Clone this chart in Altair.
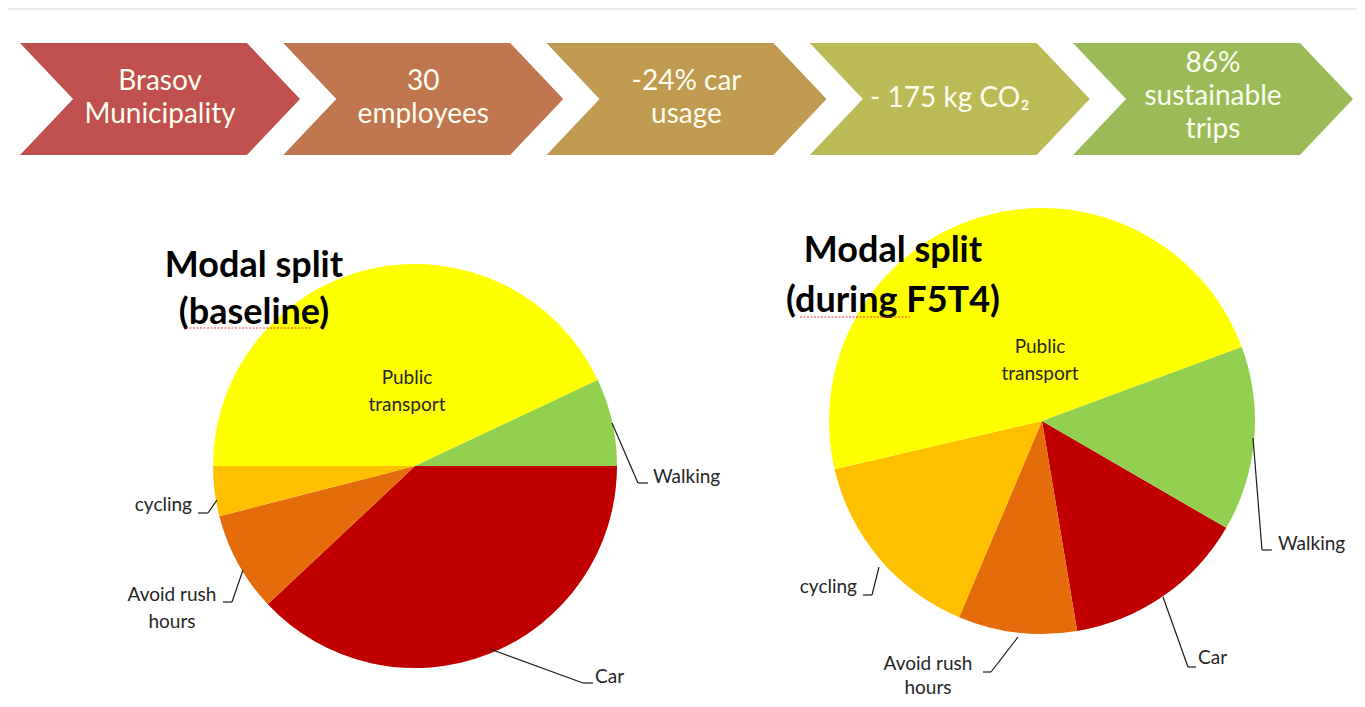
import math
import altair as alt
import pandas as pd

# ---------------- data ----------------
steps = ["Brasov\nMunicipality", "30\nemployees", "-24% car\nusage", "- 175 kg CO₂", "86%\nsustainable\ntrips"]
step_colors = ["#C0504D", "#C0774F", "#BF9A50", "#BCBB58", "#9BBB59"]

modes = ["Car", "Avoid rush hours", "cycling", "Public transport", "Walking"]
mode_colors = ["#C00000", "#E46C0A", "#FFC000", "#FFFF00", "#92D050"]
baseline = [38, 8, 4, 43, 7]
during = [14, 9, 15, 48, 14]

W, H = 1349, 691
OFF = 8  # page margin; coordinates below are page coordinates minus OFF


def P(v):
    return v - OFF


FONT = "Lato"
LABEL_COLOR = "#262626"
one = pd.DataFrame({"s": [0]})

# ---------------- chevrons ----------------
steps_df = pd.DataFrame({
    "i": list(range(len(steps))),
    "step": steps,
    "nlines": [s.count("\n") + 1 for s in steps],
})
xscale = alt.Scale(domain=[0, len(steps) - 1], range=[P(160), P(1213)])
chev_path = "M-1,-0.4 L0.621,-0.4 L1,0 L0.621,0.4 L-1,0.4 L-0.621,0 Z"

chevrons = alt.Chart(steps_df).mark_point(
    shape=chev_path, filled=True, opacity=1, size=280 * 280, strokeWidth=0
).encode(
    x=alt.X("i:Q", scale=xscale, axis=None),
    y=alt.value(P(99)),
    color=alt.Color("step:N", scale=alt.Scale(domain=steps, range=step_colors), legend=None),
)

# first line's vertical position depends on how many lines the label has
chev_text = alt.Chart(steps_df).mark_text(
    font=FONT, fontSize=28, color="#FDFDF0", lineBreak="\n", lineHeight=33,
    align="center", baseline="middle"
).encode(
    x=alt.X("i:Q", scale=xscale, axis=None),
    y=alt.Y("nlines:Q", scale=alt.Scale(domain=[1, 3], range=[P(99), P(64)]), axis=None),
    text="step:N",
)

# ---------------- pies ----------------
def pie(values, cx, cy, r, start_deg):
    df = pd.DataFrame({"mode": modes, "k": list(range(len(modes))), "v": values})
    a = math.radians(start_deg)
    return alt.Chart(df).mark_arc(radius=r, stroke=None).encode(
        theta=alt.Theta("v:Q", stack=True, scale=alt.Scale(range=[a, a + 2 * math.pi])),
        color=alt.Color("mode:N", scale=alt.Scale(domain=modes, range=mode_colors), legend=None),
        order=alt.Order("k:Q"),
        x=alt.value(P(cx)),
        y=alt.value(P(cy)),
    )


pie_left = pie(baseline, 415, 466, 202, 90)
pie_right = pie(during, 1042, 421, 213, 120.1)


def txt(text, x, y, size=19, align="left", bold=False, lh=27, color=LABEL_COLOR):
    df = pd.DataFrame({"t": [text]})
    return alt.Chart(df).mark_text(
        font=FONT, fontSize=size, fontWeight="bold" if bold else "normal",
        color=color, align=align, baseline="middle", lineBreak="\n", lineHeight=lh
    ).encode(x=alt.value(P(x)), y=alt.value(P(y)), text="t:N")


def seg(x1, y1, x2, y2, color="#1a1a1a", width=1.2, dash=None):
    kw = dict(color=color, strokeWidth=width)
    if dash:
        kw["strokeDash"] = dash
    return alt.Chart(one).mark_rule(**kw).encode(
        x=alt.value(P(x1)), y=alt.value(P(y1)), x2=alt.value(P(x2)), y2=alt.value(P(y2))
    )


top_strip = alt.Chart(one).mark_rect(color="#EBEBEB").encode(
    x=alt.value(0), x2=alt.value(W), y=alt.value(0), y2=alt.value(2)
)

annotations = [
    # left pie
    txt("Public\ntransport", 407, 378, align="center"),
    txt("Walking", 653, 477),
    seg(612, 423, 638, 483), seg(638, 483, 648, 483),
    txt("Car", 595, 677),
    seg(490, 649, 583, 683), seg(583, 683, 593, 683),
    txt("cycling", 192, 505, align="right"),
    seg(198, 513, 208, 513), seg(208, 513, 217, 500),
    txt("Avoid rush\nhours", 172, 595, align="center"),
    seg(223, 602, 232, 602), seg(232, 602, 243, 570),
    # right pie
    txt("Public\ntransport", 1040, 347, align="center"),
    txt("Walking", 1278, 544),
    seg(1253, 438, 1262, 550), seg(1262, 550, 1272, 550),
    txt("Car", 1198, 658),
    seg(1163, 597, 1188, 667), seg(1188, 667, 1196, 667),
    txt("cycling", 857, 587, align="right"),
    seg(863, 595, 872, 595), seg(872, 595, 879, 567),
    txt("Avoid rush\nhours", 928, 664, align="center", lh=24),
    seg(983, 672, 991, 672), seg(991, 672, 1018, 637),
    # titles
    txt("Modal split\n(baseline)", 254, 266, size=36, bold=True, align="center", lh=47, color="#000000"),
    txt("Modal split\n(during F5T4)", 893, 251, size=36, bold=True, align="center", lh=50, color="#000000"),
    # spell-check squiggles
    seg(186, 328, 312, 328, color="#E04040", width=1.2, dash=[2, 1.5]),
    seg(800, 317, 910, 317, color="#E04040", width=1.2, dash=[2, 1.5]),
]

chart = alt.layer(
    top_strip, chevrons, chev_text, pie_left, pie_right, *annotations
).resolve_scale(
    theta="independent", color="independent"
).properties(
    width=W, height=H, padding=0, autosize=alt.AutoSizeParams(type="none"), background="white"
).configure_view(stroke=None)

chart.save("out.html", embed_options={"renderer": "svg", "actions": False})
